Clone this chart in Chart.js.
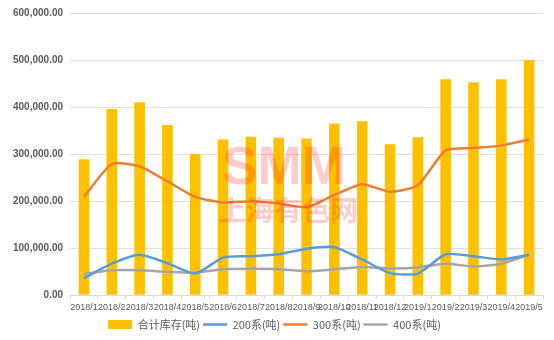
<!DOCTYPE html>
<html>
<head>
<meta charset="utf-8">
<script src="https://cdn.jsdelivr.net/npm/chart.js@4/dist/chart.umd.min.js"></script>
<style>
  html, body { margin: 0; padding: 0; background: #fff; }
  #wrap { width: 554px; height: 340px; position: relative; }
</style>
</head>
<body>
<div id="wrap"><canvas id="c" width="554" height="340"></canvas></div>
<script>
const months = ['2018/1','2018/2','2018/3','2018/4','2018/5','2018/6','2018/7','2018/8','2018/9','2018/10','2018/11','2018/12','2019/1','2019/2','2019/3','2019/4','2019/5']
const total  = [289000,396000,410000,362000,300000,331000,337000,335000,333000,365000,370000,321000,336000,459000,453000,459000,500000]
const s200   = [36000,67000,86000,68000,46000,80000,83000,87000,99000,102000,76000,47000,46000,87000,83000,76000,86000]
const s300   = [209000,279000,274000,242000,209000,197000,200000,195000,187000,213000,236000,220000,234000,308000,313000,318000,331000]
const s400   = [45000,53000,53000,50000,48000,55000,56000,55000,51000,55000,60000,57000,59000,67000,61000,67000,86000]

const fmt = v => v.toLocaleString('en-US', { minimumFractionDigits: 2, maximumFractionDigits: 2 })

// faint SMM watermark over the plot
const watermark = {
  id: 'wm',
  afterDatasetsDraw(chart) {
    const ctx = chart.ctx
    ctx.save()
    ctx.fillStyle = 'rgba(255,0,0,0.2)'
    ctx.textAlign = 'center'
    ctx.textBaseline = 'alphabetic'
    ctx.font = 'bold 53px "Liberation Sans"'
    ctx.fillText('SMM', 284, 184)
    ctx.font = 'bold 28px "Noto Sans CJK SC"'
    ctx.fillText('上海有色网', 288, 221)
    ctx.restore()
  },
}

const lineDS = (label, data, col) => ({
  type: 'line', label, data,
  borderColor: col, backgroundColor: col, pointStyle: 'line',
  borderWidth: 2.5, pointRadius: 0, tension: 0.2, order: 1,
})

new Chart(document.getElementById('c'), {
  data: {
    labels: months,
    datasets: [
      { type: 'bar', label: '合计库存(吨)', data: total, backgroundColor: '#FFC000', pointStyle: 'rect',
        barPercentage: 0.38, categoryPercentage: 1, order: 2 },
      lineDS('200系(吨)', s200, '#5B9BD5'),
      lineDS('300系(吨)', s300, '#ED7D31'),
      lineDS('400系(吨)', s400, '#A5A5A5'),
    ],
  },
  options: {
    responsive: false, animation: false,
    layout: { padding: { left: 6, right: 11, top: 0, bottom: 0 } },
    scales: {
      x: {
        grid: { display: true, drawOnChartArea: false, offset: true, color: '#D9D9D9', tickLength: 4 },
        border: { color: '#D9D9D9' },
        ticks: { color: '#595959', font: { size: 9, family: 'Liberation Sans' }, maxRotation: 0, autoSkip: false, padding: 3 },
      },
      y: {
        min: 0, max: 600000,
        grid: { color: '#E0E0E0', drawTicks: false },
        border: { display: false },
        ticks: { stepSize: 100000, color: '#595959', padding: 7,
          font: { size: 10, weight: 'bold', family: 'Liberation Sans' }, callback: v => fmt(v) },
      },
    },
    plugins: {
      legend: {
        position: 'bottom',
        labels: { color: '#595959', font: { size: 11, family: 'Noto Sans CJK SC' },
          usePointStyle: true, pointStyleWidth: 24, boxHeight: 9, padding: 3,
          sort: (a, b) => a.datasetIndex - b.datasetIndex },
      },
      tooltip: { enabled: false },
    },
  },
  plugins: [watermark],
})
</script>
</body>
</html>
